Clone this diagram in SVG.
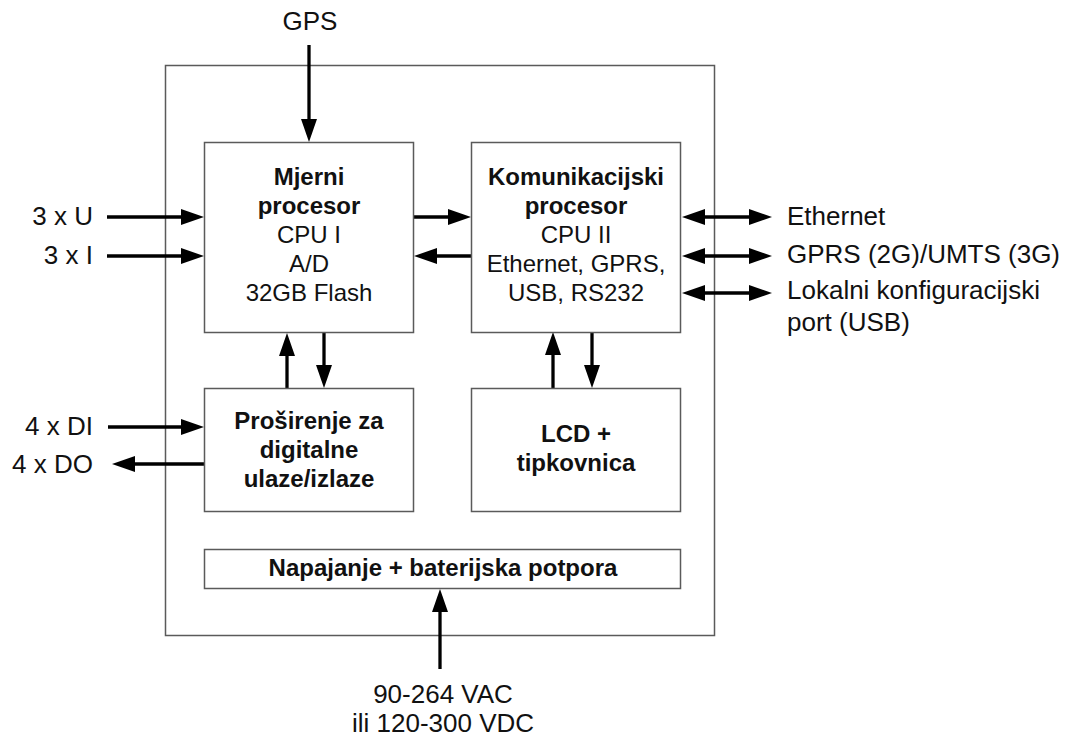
<svg xmlns="http://www.w3.org/2000/svg" width="1074" height="740" viewBox="0 0 1074 740">
<style>
.box{fill:#fff;stroke:#5a5a5a;stroke-width:1.5}
.outer{fill:none;stroke:#5a5a5a;stroke-width:1.5}
.t{font-family:"Liberation Sans",Arial,sans-serif;font-size:24px;fill:#111;text-anchor:middle}
.b{font-weight:bold}
.lbl{font-family:"Liberation Sans",Arial,sans-serif;font-size:26px;fill:#111}
.e{text-anchor:end}
.m{text-anchor:middle}
.c{stroke:#000;stroke-width:3.3;fill:none;marker-end:url(#ah)}
.d{marker-start:url(#ah)}
</style>
<defs>
<marker id="ah" markerUnits="userSpaceOnUse" markerWidth="23" markerHeight="16" refX="11" refY="8" orient="auto-start-reverse">
<path d="M0,0 L23,8 L0,16 z" fill="#000"/>
</marker>
</defs>
<rect width="1074" height="740" fill="#fff"/>
<g id="enclosure"><rect class="outer" x="165.5" y="65.5" width="549" height="570"/></g>

<g id="connectors">
<line class="c" x1="309" y1="45" x2="309" y2="130"/>
<line class="c" x1="107" y1="217" x2="192" y2="217"/>
<line class="c" x1="107" y1="256" x2="192" y2="256"/>
<line class="c" x1="413" y1="217" x2="459" y2="217"/>
<line class="c" x1="471" y1="256" x2="426" y2="256"/>
<line class="c d" x1="694" y1="217" x2="760" y2="217"/>
<line class="c d" x1="694" y1="256" x2="760" y2="256"/>
<line class="c d" x1="694" y1="293" x2="760" y2="293"/>
<line class="c" x1="287" y1="388" x2="287" y2="345"/>
<line class="c" x1="324" y1="332" x2="324" y2="376"/>
<line class="c" x1="108" y1="427" x2="192" y2="427"/>
<line class="c" x1="206" y1="464" x2="124" y2="464"/>
<line class="c" x1="553" y1="388" x2="553" y2="344"/>
<line class="c" x1="592" y1="332" x2="592" y2="376"/>
<line class="c" x1="440" y1="669" x2="440" y2="601"/>
</g>

<g id="mjerni">
<rect class="box" x="204.5" y="142.5" width="209" height="190"/>
<text class="t b" x="309" y="185">Mjerni</text>
<text class="t b" x="309" y="214">procesor</text>
<text class="t" x="309" y="243">CPU I</text>
<text class="t" x="309" y="272">A/D</text>
<text class="t" x="309" y="301">32GB Flash</text>
</g>

<g id="komunikacijski">
<rect class="box" x="471.5" y="142.5" width="209" height="190"/>
<text class="t b" x="576" y="185">Komunikacijski</text>
<text class="t b" x="576" y="214">procesor</text>
<text class="t" x="576" y="243">CPU II</text>
<text class="t" x="576" y="272">Ethernet, GPRS,</text>
<text class="t" x="576" y="301">USB, RS232</text>
</g>

<g id="prosirenje">
<rect class="box" x="204.5" y="388.5" width="209" height="123"/>
<text class="t b" x="309" y="429">Proširenje za</text>
<text class="t b" x="309" y="458">digitalne</text>
<text class="t b" x="309" y="487">ulaze/izlaze</text>
</g>

<g id="lcd">
<rect class="box" x="471.5" y="388.5" width="209" height="123"/>
<text class="t b" x="576" y="442">LCD +</text>
<text class="t b" x="576" y="471">tipkovnica</text>
</g>

<g id="napajanje">
<rect class="box" x="204.5" y="549.5" width="476" height="39"/>
<text class="t b" x="443" y="576">Napajanje + baterijska potpora</text>
</g>

<g id="labels">
<text class="lbl m" x="310" y="30">GPS</text>
<text class="lbl e" x="93" y="225">3 x U</text>
<text class="lbl e" x="93" y="264">3 x I</text>
<text class="lbl e" x="93" y="435">4 x DI</text>
<text class="lbl e" x="93" y="473">4 x DO</text>
<text class="lbl" x="787" y="225">Ethernet</text>
<text class="lbl" x="787" y="263">GPRS (2G)/UMTS (3G)</text>
<text class="lbl" x="787" y="299">Lokalni konfiguracijski</text>
<text class="lbl" x="787" y="331">port (USB)</text>
<text class="lbl m" x="443" y="703">90-264 VAC</text>
<text class="lbl m" x="443" y="732">ili 120-300 VDC</text>
</g>
</svg>
